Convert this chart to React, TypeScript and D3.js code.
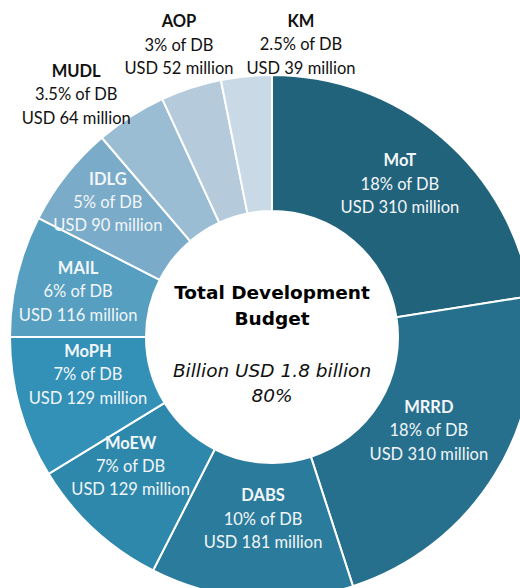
import React, { useEffect, useRef } from 'react';
import * as d3 from 'd3';

// budget shares (% of DB) and amounts (USD million)
const names = ['MoT', 'MRRD', 'DABS', 'MoEW', 'MoPH', 'MAIL', 'IDLG', 'MUDL', 'AOP', 'KM'];
const shares = [18, 18, 10, 7, 7, 6, 5, 3.5, 3, 2.5];
const amounts = [310, 310, 181, 129, 129, 116, 90, 64, 52, 39];
const colors = [
  '#22637c', '#26708e', '#2b7c9c', '#2e88ab', '#3390b6',
  '#569fc0', '#7aabc8', '#9bbdd3', '#b5cbdc', '#c9dae6',
];
const centerTitle = ['Total Development', 'Budget'];
const centerSub = ['Billion USD 1.8 billion', '80%'];

export default function App() {
  const ref = useRef<SVGSVGElement>(null);

  useEffect(() => {
    const width = 520;
    const height = 588;
    const cx = 272;
    const cy = 337;
    const outer = 262;
    const inner = 126;

    const svg = d3.select(ref.current).attr('viewBox', [0, 0, width, height]);
    svg.selectAll('*').remove();

    const data = names.map((n, i) => ({ name: n, share: shares[i], amount: amounts[i], color: colors[i] }));

    const pie = d3.pie<any>().value((d) => d.share).sort(null);
    const arcs = pie(data);
    const arc = d3.arc<any>().innerRadius(inner).outerRadius(outer);

    const g = svg.append('g').attr('transform', `translate(${cx},${cy})`);

    g.selectAll('path')
      .data(arcs)
      .join('path')
      .attr('d', arc)
      .attr('fill', (d) => d.data.color)
      .attr('stroke', '#fff')
      .attr('stroke-width', 2);

    // label placement: radius and angle tweak (degrees) per slice
    const place: Record<string, [number, number]> = {
      MoT: [199, -0.5], MRRD: [183, -0.5], DABS: [183, -1.7], MoEW: [192, 4.7],
      MoPH: [188, 4], MAIL: [199, -0.5], IDLG: [212, 1],
      MUDL: [311, -6.4], AOP: [306, 0.3], KM: [293, 11.3],
    };

    arcs.forEach((a, i) => {
      const outside = i >= 7;
      const [r, da] = place[a.data.name];
      const ang = (a.startAngle + a.endAngle) / 2 + (da * Math.PI) / 180;
      const x = r * Math.sin(ang);
      const y = -r * Math.cos(ang);
      const fill = outside ? '#111' : '#f2f6f9';
      const t = g.append('text')
        .attr('text-anchor', 'middle')
        .attr('font-family', 'Lato, "Open Sans", sans-serif')
        .attr('font-size', 16.5)
        .attr('fill', fill);
      const lines = [a.data.name, `${a.data.share}% of DB`, `USD ${a.data.amount} million`];
      lines.forEach((l, j) => {
        t.append('tspan')
          .attr('x', x)
          .attr('y', y + (j - 1) * 23.3 + 5)
          .attr('font-weight', j === 0 ? 700 : 400)
          .text(l);
      });
    });

    const font = '"DejaVu Sans", sans-serif';
    centerTitle.forEach((l, j) => {
      g.append('text')
        .attr('text-anchor', 'middle')
        .attr('x', 0)
        .attr('y', -45 + j * 26 + 7)
        .attr('font-family', font)
        .attr('font-weight', 700)
        .attr('font-size', 18.5)
        .attr('fill', '#000')
        .text(l);
    });
    centerSub.forEach((l, j) => {
      g.append('text')
        .attr('text-anchor', 'middle')
        .attr('x', 0)
        .attr('y', 33 + j * 25 + 7)
        .attr('font-family', font)
        .attr('font-style', 'italic')
        .attr('font-size', 18.5)
        .attr('fill', '#111')
        .text(l);
    });
  }, []);

  return (
    <svg
      ref={ref}
      width={520}
      height={588}
      style={{ position: 'absolute', left: 0, top: 0, background: '#fff' }}
    />
  );
}
